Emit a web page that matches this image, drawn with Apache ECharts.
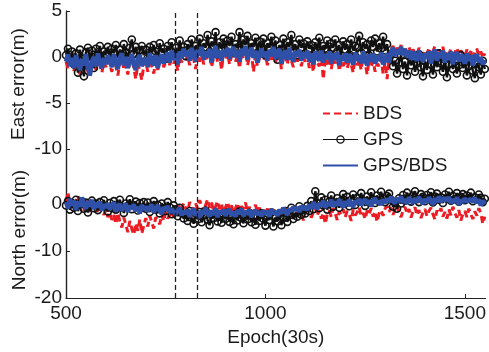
<!DOCTYPE html>
<html><head><meta charset="utf-8">
<script src="https://cdn.jsdelivr.net/npm/echarts@6/dist/echarts.min.js"></script>
<style>html,body{margin:0;padding:0;background:#fff}#c{width:489px;height:352px}</style>
</head><body><div id="c"></div>
<script>
// sampling grid of the series (epoch number of first sample and spacing)
const EPOCH_START = 500, EPOCH_STEP = 5;
const xTicks = [500, 1000, 1500];
const eastTicks = [5, 0, -5, -10];
const northTicks = [0, -10, -20];
const markEpochs = [775, 830];
const legendNames = ['BDS', 'GPS', 'GPS/BDS'];

// East error (m)
const eastBDS = [
 -0.5,-1.2,0.1,-0.8,-1.5,-0.3,-1.0,-1.9,-0.6,-1.3, -0.2,-1.6,-2.2,-0.7,-0.4,-1.4,0.0,-0.9,-1.7,-0.5,
 -1.1,-0.3,-0.9,-1.6,-0.2,-1.0,-2.0,-0.6,-0.1,-1.4, -0.8,-1.9,-0.5,-0.2,-1.2,-2.4,-0.7,-1.5,-2.5,-0.9,
 -0.4,-1.6,-0.1,-1.0,-1.8,-0.3,-1.4,-0.6,-0.2,-1.1, -0.5,0.1,-0.9,0.3,-0.7,-0.2,-1.5,0.0,-0.6,0.4,
 -0.4,0.2,-0.9,0.5,-0.2,-1.3,0.3,-0.5,0.7,-0.8, 0.1,-0.3,0.6,-1.1,0.0,0.8,-0.6,0.2,-1.4,0.4,
 -0.3,0.5,-0.8,0.1,0.7,-0.5,0.2,-1.2,0.4,-0.2, 0.8,-0.9,0.0,0.5,-1.6,0.3,-1.0,-0.1,0.6,-0.4,
 0.2,-0.9,0.4,-0.3,0.7,-0.6,0.1,0.5,-1.3,-0.1, 0.3,-0.8,0.6,-0.4,-1.1,0.2,-0.5,0.4,-1.0,0.0,
 -0.5,0.3,-1.2,-0.1,-1.6,0.2,-0.6,-1.0,0.4,-2.4, -0.3,-0.8,0.1,-1.3,-0.2,-0.7,0.3,-1.5,-0.4,-1.0,
 -0.1,-1.2,-0.5,-0.8,-1.7,0.2,-0.9,-0.3,-1.4,0.1, -0.6,-1.9,-0.2,-1.1,-0.4,-1.6,-0.7,-1.0,-0.2,-1.8,
 -0.6,-2.4,-0.1,0.8,1.2,0.4,1.0,0.6,1.3,0.5, 0.9,0.2,1.1,0.3,0.8,0.6,0.1,1.0,0.5,0.2,
 0.7,0.3,1.0,0.0,0.6,1.2,0.2,0.8,0.4,1.1, -0.1,0.7,0.3,0.9,-0.3,0.5,1.0,0.1,0.7,0.4,
 0.0,0.8,0.3,0.6,-0.2,0.5,0.9,0.1,0.6,-0.1, 0.4
];
const eastGPS = [
 0.2,0.9,-0.3,0.6,-0.8,0.4,-1.7,0.8,-0.2,-2.1, 0.5,1.0,-0.4,0.7,-1.2,0.9,0.1,1.2,-0.3,0.6,
 0.3,1.1,-0.2,0.9,0.4,1.3,-0.1,0.8,0.2,1.4, 0.5,0.0,1.0,1.9,0.3,1.1,-0.2,0.7,1.2,0.2,
 0.8,-0.1,1.1,0.4,1.3,0.6,0.0,1.5,0.5,0.9, -0.2,1.2,0.7,1.6,0.2,1.0,0.4,1.8,0.6,1.1,
 0.1,1.4,0.8,1.9,0.4,1.2,0.9,2.0,0.5,1.5, 1.0,2.4,0.6,1.7,1.1,2.7,0.3,1.6,0.9,2.0,
 0.7,1.8,1.2,2.2,0.5,1.4,1.0,2.7,0.8,1.9, 1.3,2.3,0.6,1.5,1.1,2.1,0.4,1.7,0.9,2.0,
 0.2,1.5,1.0,2.2,0.6,1.8,-0.3,1.3,0.8,2.0, 0.5,1.6,1.1,2.4,0.7,1.4,0.2,1.9,1.0,1.5,
 0.4,1.7,0.9,1.3,0.1,1.6,0.7,2.1,0.5,1.2, 0.9,1.8,0.3,1.5,1.0,1.9,0.6,1.3,0.2,1.7,
 0.8,1.4,0.3,1.9,0.7,1.2,1.0,2.3,0.5,1.6, 0.9,1.4,0.2,1.8,1.1,2.0,0.6,1.5,0.9,2.2,
 0.7,1.4,-0.2,0.3,-1.0,-0.4,-1.8,-0.6,0.2,-1.3, -0.5,-2.0,0.1,-0.9,-0.3,-1.6,-0.7,0.3,-1.1,-2.1,
 -0.4,-1.4,0.2,-0.8,-1.9,-0.2,-1.1,0.4,-0.7,-1.6, -0.3,-2.2,-0.8,0.1,-1.3,-0.5,-1.8,-0.9,0.2,-1.2,
 -0.6,-2.0,-1.0,-0.2,-1.5,-2.3,-0.7,-1.1,-1.9,-0.4, -1.3
];
const eastGPSBDS = [
 -0.5,0.3,-1.0,-0.1,-1.2,0.2,-0.7,-1.4,-0.2,-0.9, 0.3,-1.1,-2.0,-0.5,0.0,-1.0,0.4,-0.7,-1.2,-0.1,
 -0.8,0.2,-0.4,-1.1,0.3,-0.6,-1.3,-0.1,0.4,-0.9, 0.0,-1.2,-0.4,0.3,-0.8,-1.4,-0.2,0.2,-1.0,-0.5,
 -0.1,-1.1,0.4,-0.5,-0.9,0.2,-1.2,-0.3,0.3,-0.7, 0.0,0.5,-0.6,0.7,-0.3,0.4,-0.8,0.6,-0.1,0.9,
 0.1,0.7,-0.4,1.0,0.2,-0.5,0.8,0.2,1.1,-0.3, 0.6,0.0,0.9,-0.6,0.4,1.2,-0.1,0.7,-0.4,0.8,
 0.1,1.0,-0.2,0.6,1.1,0.0,0.7,-0.5,0.9,0.2, 1.2,-0.3,0.5,1.0,-0.1,0.7,-0.6,0.3,0.9,0.0,
 0.6,-0.4,0.8,0.1,1.1,-0.2,0.5,0.9,-0.7,0.3, 0.7,-0.3,1.0,0.0,-0.5,0.6,0.1,0.8,-0.4,0.5,
 -0.1,0.7,-0.5,0.4,-0.8,0.6,0.0,-0.4,0.7,-0.6, 0.3,-0.2,0.6,-0.7,0.4,-0.3,0.5,-0.9,0.2,-0.4,
 0.4,-0.6,0.3,-0.2,-0.8,0.5,-0.4,0.2,-0.7,0.6, -0.3,-0.9,0.3,-0.5,0.4,-0.7,0.1,-0.4,0.5,-0.8,
 -0.3,0.4,-0.6,0.6,1.0,0.1,0.8,0.3,1.1,0.2, 0.9,0.0,0.7,-0.3,0.6,0.1,-0.4,0.7,0.0,-0.5,
 0.4,-0.2,0.6,-0.7,0.3,0.8,-0.4,0.5,-0.1,0.7, -0.6,0.4,-0.3,0.6,-0.8,0.2,0.5,-0.5,0.3,-0.2,
 -0.7,0.4,-0.4,0.2,-0.9,-0.1,0.3,-0.6,0.0,-0.8, -0.3
];

// North error (m)
const northBDS = [
 0.5,2.5,-0.3,1.2,-1.0,0.4,1.8,-0.6,0.2,-1.4, 0.9,-0.8,-1.6,0.3,-1.1,-0.4,-2.0,-0.7,-1.5,-2.3,
 -1.2,-2.8,-1.8,-3.4,-2.3,-4.2,-1.9,-3.7,-5.0,-2.9, -4.4,-6.0,-3.6,-5.3,-6.5,-4.1,-5.7,-3.3,-6.3,-4.6,
 -3.0,-4.8,-2.5,-3.9,-5.2,-2.8,-3.5,-4.3,-2.2,-3.6, -1.8,-3.1,-2.4,-1.5,-2.9,-0.8,-1.9,-0.3,-1.2,0.2,
 -0.9,-1.7,0.4,-0.6,-1.4,0.1,-1.0,0.8,-0.4,-1.8, -0.2,1.0,-0.8,0.3,-1.5,-0.5,0.6,-1.1,-0.1,-1.9,
 -0.7,0.4,-1.3,-0.3,-2.0,-0.9,0.2,-1.6,-0.5,-1.1, 0.3,-1.8,-0.6,-2.2,-1.0,-0.2,-1.7,-0.8,-2.4,-1.3,
 -1.9,-1.0,-2.6,-1.4,-0.7,-2.2,-1.6,-3.0,-1.1,-2.5, -1.8,-0.9,-2.8,-1.5,-2.1,-3.3,-1.2,-2.6,-1.9,-3.5,
 -1.6,-2.4,-1.0,-2.9,-1.8,-0.8,-2.5,-1.3,-3.1,-1.9, -4.2,-2.2,-1.4,-2.7,-0.9,-2.0,-3.4,-1.6,-2.3,-1.1,
 -2.8,-1.5,-2.1,-3.6,-1.2,-2.4,-1.8,-0.7,-2.6,-1.9, -3.2,-1.4,-2.2,-0.9,-2.7,-1.6,-3.8,-2.0,-1.3,-2.5,
 -1.0,-0.4,-1.7,-0.8,-2.3,-1.2,-0.3,-1.9,-2.8,-1.4, -0.6,-2.1,-1.1,-2.9,-1.6,-0.7,-2.4,-1.3,-3.0,-1.8,
 -1.1,-2.6,-1.5,-0.8,-2.2,-3.3,-1.4,-2.0,-0.9,-2.7, -1.7,-3.1,-1.2,-2.4,-0.6,-1.9,-2.9,-1.3,-3.5,-2.1,
 -1.5,-2.8,-1.0,-2.2,-3.2,-1.6,-2.5,-0.9,-2.0,-4.2, -2.7
];
const northGPS = [
 -0.3,0.6,-1.2,0.2,-0.8,0.9,-1.5,-0.1,0.5,-1.0, 0.3,-1.8,-0.4,0.7,-0.9,0.1,-1.3,0.4,-0.6,0.8,
 -0.5,-1.6,0.2,-0.9,0.6,-1.2,-0.2,0.9,-0.7,-1.9, 0.1,-0.4,1.0,-1.1,-0.3,0.5,-1.4,0.2,-0.8,0.4,
 -1.0,0.3,-1.7,-0.5,0.6,-1.2,-0.2,-2.0,0.1,-0.9, -1.5,0.4,-0.7,-2.2,-0.3,-1.3,-2.6,-0.8,-1.9,-3.1,
 -2.2,-3.6,-1.5,-2.9,-4.2,-2.0,-3.3,-1.7,-3.9,-2.5, -1.4,-3.4,-4.5,-2.3,-3.0,-1.9,-3.7,-2.6,-4.0,-2.1,
 -3.2,-1.8,-3.8,-2.7,-4.3,-2.2,-3.5,-1.6,-3.0,-4.1, -2.4,-3.3,-1.9,-3.9,-2.8,-4.4,-2.5,-3.6,-2.0,-3.2,
 -4.6,-2.6,-3.4,-1.8,-4.8,-2.9,-3.7,-2.1,-4.5,-3.0, -1.5,-3.8,-2.4,-0.8,-3.2,-1.9,-2.7,-0.5,-2.3,-1.2,
 -2.0,-0.4,-1.5,0.6,-1.1,2.7,0.2,-0.9,1.4,-0.3, 0.9,-1.2,0.5,1.8,-0.6,0.3,1.2,-0.8,0.7,2.1,
 0.1,1.5,-0.5,0.9,2.0,-0.2,1.3,0.5,2.3,0.8, -0.4,1.6,0.3,2.5,1.0,0.2,1.8,0.6,2.6,1.1,
 0.4,1.7,2.2,0.9,-0.6,0.3,-1.0,1.2,0.1,1.9, 0.7,2.4,1.3,0.5,1.8,2.7,1.0,0.4,2.1,1.5,
 0.6,1.9,1.2,2.5,0.3,1.6,2.2,0.9,1.4,0.2, 2.0,1.1,2.6,0.7,1.7,1.0,2.3,0.5,1.5,2.1,
 0.8,1.8,1.2,2.4,0.6,1.4,0.9,2.0,1.3,0.4, 1.1
];
const northGPSBDS = [
 0.4,-0.9,1.1,-0.3,0.7,-1.3,0.5,-0.6,1.4,-0.2, -1.0,0.6,-0.5,0.9,-1.1,0.3,-0.7,0.5,-1.4,-0.1,
 -0.8,0.2,-1.2,-0.3,0.3,-1.6,-0.5,0.0,-1.4,-0.7, 0.1,-1.7,-0.4,-1.1,-0.1,-1.5,-0.6,-2.0,-0.2,-1.2,
 -0.5,-1.6,-0.8,-0.1,-1.8,-0.9,-0.3,-1.4,-2.1,-0.7, -1.3,-0.4,-1.9,-1.0,-0.6,-2.2,-1.3,-0.8,-2.4,-1.5,
 -2.1,-1.2,-2.7,-1.6,-1.0,-2.5,-1.7,-2.9,-1.3,-2.2, -0.8,-2.0,-2.6,-1.4,-2.3,-0.9,-2.8,-1.5,-2.1,-1.2,
 -2.5,-1.6,-1.1,-2.4,-1.7,-2.7,-1.3,-2.1,-1.0,-2.6, -1.5,-2.2,-1.2,-2.8,-1.8,-1.3,-2.3,-1.6,-2.6,-1.4,
 -2.2,-1.5,-2.7,-1.1,-2.1,-1.6,-2.5,-1.2,-2.0,-0.8, -1.7,-2.3,-1.0,-1.6,-0.6,-1.4,-0.7,-1.7,-0.4,-1.2,
 -0.5,-1.3,-0.1,-1.0,0.4,-0.6,-1.1,0.2,-0.5,0.7, -0.8,0.3,-0.4,0.9,-0.6,0.5,-0.3,1.0,-0.1,-0.7,
 0.6,-0.4,0.9,0.0,-0.6,0.7,0.1,1.1,-0.3,0.5, 1.0,-0.1,0.8,-0.5,0.6,1.2,0.1,0.7,-0.2,1.0,
 0.2,1.1,0.4,1.5,0.6,0.1,1.3,0.5,1.6,0.3, 1.0,0.0,1.4,0.7,0.2,1.2,0.4,1.5,0.6,0.1,
 1.1,0.3,1.4,0.7,-0.1,1.2,0.4,1.6,0.5,0.1, 1.3,0.6,1.5,0.2,1.0,0.4,1.4,-0.2,0.9,0.3,
 1.2,0.5,0.1,1.1,0.4,1.4,0.2,0.9,-0.3,0.7, 0.0
];

function pairs(vals) { return vals.map((v, i) => [EPOCH_START + i * EPOCH_STEP, v]); }

const FONT = 'Liberation Sans, Arial, Helvetica, sans-serif';
const RED = '#EC1C24', BLUE = '#2F50A8', BLACK = '#111';

function bds(vals, yi) {
  return { name: legendNames[0], type: 'line', yAxisIndex: yi, data: pairs(vals), symbol: 'none', z: 2,
    lineStyle: { color: RED, width: 3, type: [7, 4] }, itemStyle: { color: RED }, silent: true };
}
function gps(vals, yi) {
  return { name: legendNames[1], type: 'line', yAxisIndex: yi, data: pairs(vals), symbol: 'circle', symbolSize: 7,
    showAllSymbol: true, z: 3,
    lineStyle: { color: BLACK, width: 2.4 }, itemStyle: { color: 'rgba(0,0,0,0)', borderColor: BLACK, borderWidth: 1.6 }, silent: true };
}
function both(vals, yi) {
  return { name: legendNames[2], type: 'line', yAxisIndex: yi, data: pairs(vals), symbol: 'none', z: 4,
    lineStyle: { color: BLUE, width: 4.5 }, itemStyle: { color: BLUE }, silent: true };
}

const chart = echarts.init(document.getElementById('c'), null, { renderer: 'canvas' });
const eastMark = both(eastGPSBDS, 0);
eastMark.markLine = { silent: true, symbol: 'none', label: { show: false }, z: 5,
  lineStyle: { color: '#222', width: 1.3, type: [5, 3] },
  data: markEpochs.map(e => ({ xAxis: e })) };

const yCommon = {
  type: 'value', position: 'left', offset: 0, splitLine: { show: false },
  axisLine: { show: true, lineStyle: { color: '#222', width: 1.2 } },
  axisTick: { show: true, inside: true, length: 4, lineStyle: { color: '#222' } },
  axisLabel: { fontSize: 19, color: '#1a1a1a', fontFamily: FONT, margin: 4, formatter: v => String(v) }
};

chart.setOption({
  animation: false,
  backgroundColor: '#fff',
  grid: { left: 66, right: 0, top: 11, bottom: 52, containLabel: false },
  legend: {
    data: [
      { name: legendNames[0], itemStyle: { opacity: 0 } },
      { name: legendNames[1], lineStyle: { width: 1.2 }, itemStyle: { borderWidth: 1.3 } },
      { name: legendNames[2], itemStyle: { opacity: 0 } }
    ],
    orient: 'vertical', left: 322, top: 104, padding: 0,
    itemWidth: 35, itemHeight: 9, itemGap: 7,
    textStyle: { fontSize: 19, color: '#1a1a1a', fontFamily: FONT },
    selectedMode: false
  },
  xAxis: {
    type: 'value', min: 500, max: 1552, splitLine: { show: false },
    name: 'Epoch(30s)', nameLocation: 'middle', nameGap: 25,
    nameTextStyle: { fontSize: 19, color: '#1a1a1a', fontFamily: FONT },
    axisLine: { show: true, onZero: false, lineStyle: { color: '#222', width: 1.2 } },
    axisTick: { show: true, inside: true, length: 4, customValues: xTicks, lineStyle: { color: '#222' } },
    axisLabel: { fontSize: 19, color: '#1a1a1a', fontFamily: FONT, margin: 6, customValues: xTicks,
      showMaxLabel: true, showMinLabel: true, hideOverlap: false, formatter: v => String(v) }
  },
  yAxis: [
    Object.assign({}, yCommon, { min: -26.2, max: 5,
      axisTick: Object.assign({}, yCommon.axisTick, { customValues: eastTicks }),
      axisLabel: Object.assign({}, yCommon.axisLabel, { customValues: eastTicks }) }),
    Object.assign({}, yCommon, { min: -20, max: 41,
      axisTick: Object.assign({}, yCommon.axisTick, { customValues: northTicks }),
      axisLabel: Object.assign({}, yCommon.axisLabel, { customValues: northTicks }) })
  ],
  graphic: [
    { type: 'text', x: 19, y: 84, rotation: Math.PI / 2,
      style: { text: 'East error(m)', fontSize: 19, fontFamily: FONT, fill: '#1a1a1a', align: 'center', verticalAlign: 'middle' } },
    { type: 'text', x: 20, y: 230, rotation: Math.PI / 2,
      style: { text: 'North error(m)', fontSize: 19, fontFamily: FONT, fill: '#1a1a1a', align: 'center', verticalAlign: 'middle' } }
  ],
  series: [
    bds(eastBDS, 0), bds(northBDS, 1),
    gps(eastGPS, 0), gps(northGPS, 1),
    eastMark, both(northGPSBDS, 1)
  ]
});
</script>
</body></html>
